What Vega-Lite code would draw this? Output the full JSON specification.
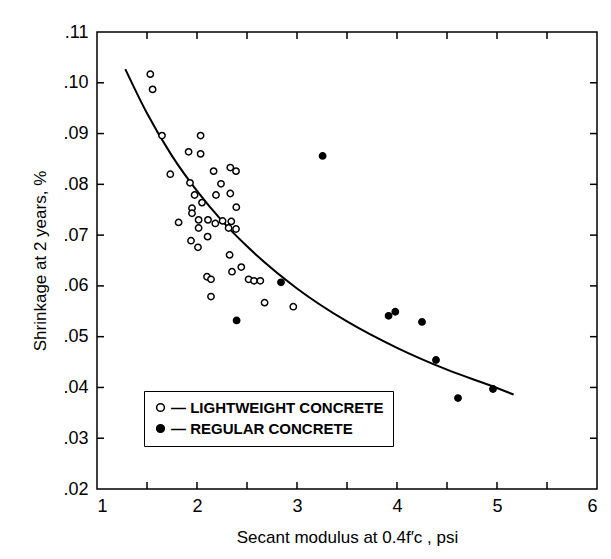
{
  "$schema": "https://vega.github.io/schema/vega-lite/v6.json",
  "width": 500,
  "height": 457,
  "autosize": "none",
  "padding": {"left": 97, "top": 32, "right": 14, "bottom": 70},
  "background": "white",
  "config": {
    "view": {"stroke": "black", "strokeWidth": 1.5},
    "font": "Liberation Sans",
    "axis": {
      "grid": false,
      "domain": false,
      "ticks": false,
      "labelColor": "black",
      "labelFont": "Liberation Sans",
      "labelFontSize": 18,
      "titleColor": "black",
      "titleFont": "Liberation Sans",
      "titleFontSize": 17,
      "titleFontWeight": "normal"
    }
  },
  "datasets": {
    "pts": [
      {"x": 1.533, "y": 0.1017, "type": "LIGHTWEIGHT CONCRETE"},
      {"x": 1.556, "y": 0.0987, "type": "LIGHTWEIGHT CONCRETE"},
      {"x": 1.65, "y": 0.0896, "type": "LIGHTWEIGHT CONCRETE"},
      {"x": 1.733, "y": 0.082, "type": "LIGHTWEIGHT CONCRETE"},
      {"x": 1.916, "y": 0.0864, "type": "LIGHTWEIGHT CONCRETE"},
      {"x": 2.036, "y": 0.0896, "type": "LIGHTWEIGHT CONCRETE"},
      {"x": 2.036, "y": 0.086, "type": "LIGHTWEIGHT CONCRETE"},
      {"x": 2.166, "y": 0.0826, "type": "LIGHTWEIGHT CONCRETE"},
      {"x": 2.333, "y": 0.0833, "type": "LIGHTWEIGHT CONCRETE"},
      {"x": 2.39, "y": 0.0826, "type": "LIGHTWEIGHT CONCRETE"},
      {"x": 1.93, "y": 0.0803, "type": "LIGHTWEIGHT CONCRETE"},
      {"x": 2.24, "y": 0.0801, "type": "LIGHTWEIGHT CONCRETE"},
      {"x": 1.976, "y": 0.0779, "type": "LIGHTWEIGHT CONCRETE"},
      {"x": 2.19, "y": 0.0779, "type": "LIGHTWEIGHT CONCRETE"},
      {"x": 2.333, "y": 0.0782, "type": "LIGHTWEIGHT CONCRETE"},
      {"x": 2.05, "y": 0.0764, "type": "LIGHTWEIGHT CONCRETE"},
      {"x": 2.393, "y": 0.0755, "type": "LIGHTWEIGHT CONCRETE"},
      {"x": 1.95, "y": 0.0753, "type": "LIGHTWEIGHT CONCRETE"},
      {"x": 1.95, "y": 0.0743, "type": "LIGHTWEIGHT CONCRETE"},
      {"x": 1.816, "y": 0.0725, "type": "LIGHTWEIGHT CONCRETE"},
      {"x": 2.016, "y": 0.073, "type": "LIGHTWEIGHT CONCRETE"},
      {"x": 2.11, "y": 0.073, "type": "LIGHTWEIGHT CONCRETE"},
      {"x": 2.183, "y": 0.0723, "type": "LIGHTWEIGHT CONCRETE"},
      {"x": 2.256, "y": 0.0728, "type": "LIGHTWEIGHT CONCRETE"},
      {"x": 2.343, "y": 0.0727, "type": "LIGHTWEIGHT CONCRETE"},
      {"x": 2.016, "y": 0.0714, "type": "LIGHTWEIGHT CONCRETE"},
      {"x": 2.316, "y": 0.0714, "type": "LIGHTWEIGHT CONCRETE"},
      {"x": 2.39, "y": 0.0712, "type": "LIGHTWEIGHT CONCRETE"},
      {"x": 2.106, "y": 0.0697, "type": "LIGHTWEIGHT CONCRETE"},
      {"x": 1.94, "y": 0.0689, "type": "LIGHTWEIGHT CONCRETE"},
      {"x": 2.01, "y": 0.0676, "type": "LIGHTWEIGHT CONCRETE"},
      {"x": 2.326, "y": 0.0661, "type": "LIGHTWEIGHT CONCRETE"},
      {"x": 2.443, "y": 0.0637, "type": "LIGHTWEIGHT CONCRETE"},
      {"x": 2.35, "y": 0.0628, "type": "LIGHTWEIGHT CONCRETE"},
      {"x": 2.1, "y": 0.0618, "type": "LIGHTWEIGHT CONCRETE"},
      {"x": 2.14, "y": 0.0613, "type": "LIGHTWEIGHT CONCRETE"},
      {"x": 2.516, "y": 0.0613, "type": "LIGHTWEIGHT CONCRETE"},
      {"x": 2.57, "y": 0.061, "type": "LIGHTWEIGHT CONCRETE"},
      {"x": 2.633, "y": 0.061, "type": "LIGHTWEIGHT CONCRETE"},
      {"x": 2.14, "y": 0.0579, "type": "LIGHTWEIGHT CONCRETE"},
      {"x": 2.676, "y": 0.0567, "type": "LIGHTWEIGHT CONCRETE"},
      {"x": 2.963, "y": 0.0559, "type": "LIGHTWEIGHT CONCRETE"},
      {"x": 3.256, "y": 0.0856, "type": "REGULAR CONCRETE"},
      {"x": 2.84, "y": 0.0607, "type": "REGULAR CONCRETE"},
      {"x": 2.396, "y": 0.0532, "type": "REGULAR CONCRETE"},
      {"x": 3.916, "y": 0.0541, "type": "REGULAR CONCRETE"},
      {"x": 3.983, "y": 0.0549, "type": "REGULAR CONCRETE"},
      {"x": 4.25, "y": 0.0529, "type": "REGULAR CONCRETE"},
      {"x": 4.39, "y": 0.0454, "type": "REGULAR CONCRETE"},
      {"x": 4.61, "y": 0.0379, "type": "REGULAR CONCRETE"},
      {"x": 4.96, "y": 0.0397, "type": "REGULAR CONCRETE"}
    ],
    "curve": [
      {"x": 1.283, "y": 0.1027},
      {"x": 1.5, "y": 0.094},
      {"x": 1.75, "y": 0.0856},
      {"x": 2.0, "y": 0.0787},
      {"x": 2.25, "y": 0.0728},
      {"x": 2.5, "y": 0.0678},
      {"x": 3.0, "y": 0.0595},
      {"x": 3.5, "y": 0.053},
      {"x": 4.0, "y": 0.0478},
      {"x": 4.5, "y": 0.0435},
      {"x": 5.0, "y": 0.0399},
      {"x": 5.166, "y": 0.0386}
    ],
    "xt": [{"v": 1.5}, {"v": 2}, {"v": 2.5}, {"v": 3}, {"v": 3.5}, {"v": 4}, {"v": 4.5}, {"v": 5}, {"v": 5.5}],
    "yt": [{"v": 0.03}, {"v": 0.04}, {"v": 0.05}, {"v": 0.06}, {"v": 0.07}, {"v": 0.08}, {"v": 0.09}, {"v": 0.1}]
  },
  "layer": [
    {
      "data": {"name": "xt"},
      "mark": {"type": "rule", "color": "black", "strokeWidth": 1.5},
      "encoding": {
        "x": {"field": "v", "type": "quantitative",
          "scale": {"domain": [1, 6], "nice": false, "zero": false},
          "axis": {"orient": "bottom", "title": "Secant modulus at 0.4f′c , psi",
            "values": [1, 2, 3, 4, 5, 6],
            "labelExpr": "format(datum.value, 'd')",
            "labelPadding": 8, "titlePadding": 14}},
        "y": {"datum": 0.02, "type": "quantitative",
          "scale": {"domain": [0.02, 0.11], "nice": false, "zero": false},
          "axis": {"orient": "left", "title": "Shrinkage at 2 years, %",
            "values": [0.02, 0.03, 0.04, 0.05, 0.06, 0.07, 0.08, 0.09, 0.1, 0.11],
            "labelExpr": "substring(format(datum.value, '.2f'), 1)",
            "labelPadding": 9, "titlePadding": 13}},
        "y2": {"datum": 0.0214}
      }
    },
    {
      "data": {"name": "xt"},
      "mark": {"type": "rule", "color": "black", "strokeWidth": 1.5},
      "encoding": {
        "x": {"field": "v", "type": "quantitative"},
        "y": {"datum": 0.11, "type": "quantitative"},
        "y2": {"datum": 0.1086}
      }
    },
    {
      "data": {"name": "yt"},
      "mark": {"type": "rule", "color": "black", "strokeWidth": 1.5},
      "encoding": {
        "y": {"field": "v", "type": "quantitative"},
        "x": {"datum": 1, "type": "quantitative"},
        "x2": {"datum": 1.07}
      }
    },
    {
      "data": {"name": "yt"},
      "mark": {"type": "rule", "color": "black", "strokeWidth": 1.5},
      "encoding": {
        "y": {"field": "v", "type": "quantitative"},
        "x": {"datum": 6, "type": "quantitative"},
        "x2": {"datum": 5.93}
      }
    },
    {
      "data": {"name": "curve"},
      "mark": {"type": "line", "color": "black", "strokeWidth": 2, "interpolate": "monotone"},
      "encoding": {
        "x": {"field": "x", "type": "quantitative"},
        "y": {"field": "y", "type": "quantitative"}
      }
    },
    {
      "data": {"name": "pts"},
      "mark": {"type": "point", "filled": true, "stroke": "black", "strokeWidth": 1.5, "size": 40, "opacity": 1},
      "encoding": {
        "x": {"field": "x", "type": "quantitative"},
        "y": {"field": "y", "type": "quantitative"},
        "fill": {"field": "type", "type": "nominal",
          "scale": {"domain": ["LIGHTWEIGHT CONCRETE", "REGULAR CONCRETE"], "range": ["white", "black"]},
          "legend": {"orient": "none", "legendX": 47, "legendY": 359, "title": null,
            "strokeColor": "black", "padding": 9, "fillColor": "white",
            "symbolType": "circle", "symbolSize": 60, "symbolStrokeColor": "black", "symbolStrokeWidth": 1.5,
            "labelExpr": "'— ' + datum.label + '    '", "labelFont": "Liberation Sans", "labelFontWeight": "bold",
            "labelFontSize": 15, "labelColor": "black", "labelOffset": 3, "rowPadding": 5, "labelLimit": 400}}
      }
    }
  ]
}
